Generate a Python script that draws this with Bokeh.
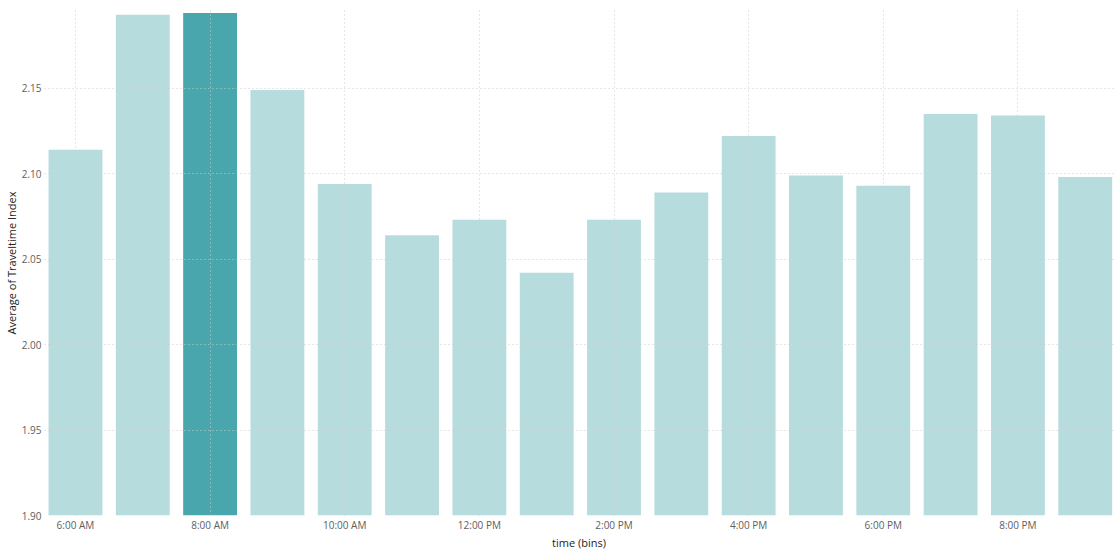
from bokeh.plotting import figure
from bokeh.models import ColumnDataSource, FixedTicker, Range1d, NumeralTickFormatter
from bokeh.embed import file_html
from bokeh.resources import INLINE

time_bins = ["6:00 AM", "7:00 AM", "8:00 AM", "9:00 AM", "10:00 AM", "11:00 AM",
             "12:00 PM", "1:00 PM", "2:00 PM", "3:00 PM", "4:00 PM", "5:00 PM",
             "6:00 PM", "7:00 PM", "8:00 PM", "9:00 PM"]
travel_index = [2.114, 2.193, 2.194, 2.149, 2.094, 2.064, 2.073, 2.042,
                2.073, 2.089, 2.122, 2.099, 2.093, 2.135, 2.134, 2.098]
y_ticks = [1.90, 1.95, 2.00, 2.05, 2.10, 2.15]
highlight = "8:00 AM"

LIGHT = "#B7DCDD"
DARK = "#48A6AC"

xs = list(range(len(time_bins)))
colors = [DARK if t == highlight else LIGHT for t in time_bins]
src = ColumnDataSource(dict(x=xs, top=travel_index, color=colors, label=time_bins))

p = figure(width=1114, height=552, output_backend="svg", toolbar_location=None,
           x_range=Range1d(-0.46, 15.42), y_range=Range1d(1.90, 2.1955),
           min_border_left=44, min_border_right=1, min_border_top=10, min_border_bottom=36)
p.outline_line_color = None
p.background_fill_color = "white"

p.vbar(x="x", top="top", bottom=1.90, width=0.8, fill_color="color", line_color=None, source=src)

p.xaxis.ticker = FixedTicker(ticks=xs[::2])
p.xaxis.major_label_overrides = {i: time_bins[i] for i in xs}
p.yaxis.ticker = FixedTicker(ticks=y_ticks)
p.yaxis.formatter = NumeralTickFormatter(format="0.00")

for ax in (p.xaxis, p.yaxis):
    ax.axis_line_color = None
    ax.major_tick_line_color = None
    ax.minor_tick_line_color = None
    ax.major_tick_out = 0
    ax.major_tick_in = 0
    ax.minor_tick_out = 0
    ax.minor_tick_in = 0
    ax.major_label_text_font = "Open Sans"
    ax.major_label_text_font_size = "10px"
    ax.major_label_text_color = "#605E5C"
    ax.axis_label_text_font = "Open Sans"
    ax.axis_label_text_font_size = "11px"
    ax.axis_label_text_font_style = "normal"
    ax.axis_label_text_color = "#252423"

p.xaxis.axis_label = "time (bins)"
p.yaxis.axis_label = "Average of Traveltime Index"
p.xaxis.major_label_standoff = 2
p.xaxis.axis_label_standoff = 0
p.yaxis.major_label_standoff = 3
p.yaxis.axis_label_standoff = 0

for g in (p.xgrid, p.ygrid):
    g.grid_line_color = "#CCCCCC"
    g.grid_line_dash = "1 3"
    g.level = "overlay"

open("out.html", "w").write(file_html(p, INLINE))
